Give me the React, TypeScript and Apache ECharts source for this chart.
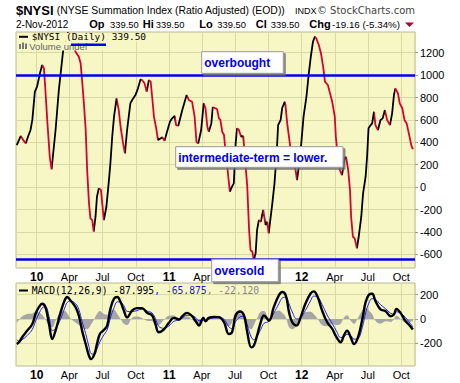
import React, { useEffect, useRef } from 'react';
import * as echarts from 'echarts';

// ---------- data ----------
const nysiDates = [
  '2009-11-07','2009-11-18','2009-11-25','2009-12-02','2009-12-08','2009-12-15','2009-12-20','2009-12-27',
  '2010-01-02','2010-01-10','2010-01-16','2010-01-21','2010-01-25','2010-01-30','2010-02-06','2010-02-11',
  '2010-02-22','2010-03-03','2010-03-15','2010-03-28','2010-04-18','2010-04-27','2010-05-02','2010-05-06',
  '2010-05-11','2010-05-16','2010-05-20','2010-05-25','2010-05-29','2010-06-03','2010-06-07','2010-06-12',
  '2010-06-16','2010-06-21','2010-06-27','2010-07-05','2010-07-12','2010-07-19','2010-07-23','2010-07-28',
  '2010-08-02','2010-08-09','2010-08-15','2010-08-20','2010-08-27','2010-09-01','2010-09-07','2010-09-16',
  '2010-09-21','2010-09-30','2010-10-07','2010-10-14','2010-10-18','2010-10-25','2010-10-31','2010-11-06',
  '2010-11-11','2010-11-15','2010-11-20','2010-11-27','2010-12-01','2010-12-08','2010-12-13','2010-12-19',
  '2010-12-26','2011-01-03','2011-01-09','2011-01-16','2011-01-20','2011-01-26','2011-02-06','2011-02-18',
  '2011-02-24','2011-03-05','2011-03-12','2011-03-17','2011-03-22','2011-03-30','2011-04-06','2011-04-11',
  '2011-04-16','2011-04-20','2011-04-27','2011-05-01','2011-05-09','2011-05-13','2011-05-18','2011-05-22',
  '2011-05-27','2011-06-01','2011-06-05','2011-06-10','2011-06-17','2011-06-23','2011-06-28','2011-07-03',
  '2011-07-07','2011-07-12','2011-07-18','2011-07-24','2011-08-04','2011-08-09','2011-08-13','2011-08-18',
  '2011-08-22','2011-08-27','2011-08-31','2011-09-05','2011-09-10','2011-09-17','2011-09-23','2011-09-28',
  '2011-10-02','2011-10-12','2011-10-18','2011-10-24','2011-10-28','2011-11-04','2011-11-08','2011-11-15',
  '2011-11-17','2011-11-22','2011-12-03','2011-12-15','2011-12-19','2011-12-24','2011-12-30','2012-01-06',
  '2012-01-14','2012-01-20','2012-01-26','2012-02-01','2012-02-06','2012-02-10','2012-02-17','2012-02-23',
  '2012-02-29','2012-03-05','2012-03-13','2012-03-19','2012-03-25','2012-04-01','2012-04-04','2012-04-10',
  '2012-04-15','2012-04-21','2012-04-28','2012-05-02','2012-05-08','2012-05-13','2012-05-16','2012-05-21',
  '2012-05-26','2012-05-29','2012-06-01','2012-06-06','2012-06-13','2012-06-18','2012-06-25','2012-06-29',
  '2012-07-03','2012-07-09','2012-07-13','2012-07-18','2012-07-22','2012-07-29','2012-08-05','2012-08-11',
  '2012-08-17','2012-08-23','2012-08-31','2012-09-06','2012-09-11','2012-09-15','2012-09-22','2012-09-27',
  '2012-10-04','2012-10-10','2012-10-16','2012-10-22','2012-10-29','2012-11-02'
];
const nysiValues = [
  376, 456, 420, 391, 450, 510, 600, 852,
  897, 1016, 1090, 1060, 867, 600, 271, 159,
  510, 867, 1224, 1380, 1209, 1164, 1105, 956,
  748, 510, 153, -142, -279, -294, -398, -264,
  -86, -11, -26, -294, -175, 63, 212, 450,
  629, 793, 688, 539, 391, 302, 510, 748,
  778, 822, 882, 962, 956, 927, 852, 956,
  941, 807, 629, 510, 420, 435, 445, 414,
  495, 584, 614, 635, 554, 548, 688, 822,
  778, 762, 629, 405, 391, 510, 748, 704,
  539, 495, 569, 713, 704, 694, 614, 600,
  495, 465, 320, 182, -41, 4, 34, 391,
  525, 510, 450, 456, 4, -383, -562, -577,
  -651, -591, -383, -294, -309, -204, -338, -309,
  -413, -145, 34, 302, 554, 600, 704, 762,
  740, 569, 300, 153, 63, 182, 361, 629,
  807, 1001, 1164, 1298, 1343, 1329, 1269, 1195,
  1075, 941, 912, 837, 762, 629, 450, 250,
  153, 108, 257, 271, 153, -26, -264, -443,
  -457, -502, -546, -443, -264, -55, 93, 271,
  525, 554, 569, 673, 554, 510, 600, 614,
  688, 600, 554, 659, 822, 882, 837, 748,
  704, 600, 569, 480, 370, 339.5
];

const macdDates = [
  '2009-11-07','2009-11-13','2009-11-22','2009-12-06','2009-12-20','2009-12-29','2010-01-07','2010-01-16',
  '2010-01-25','2010-02-04','2010-02-13','2010-02-22','2010-03-08','2010-03-19','2010-03-26','2010-04-04',
  '2010-04-18','2010-04-27','2010-05-06','2010-05-16','2010-05-25','2010-05-31','2010-06-09','2010-06-16',
  '2010-06-24','2010-07-03','2010-07-14','2010-07-23','2010-08-02','2010-08-11','2010-08-20','2010-08-29',
  '2010-09-07','2010-09-21','2010-10-04','2010-10-18','2010-11-01','2010-11-15','2010-11-24','2010-12-03',
  '2010-12-17','2010-12-31','2011-01-14','2011-01-28','2011-02-06','2011-02-19','2011-03-05','2011-03-15',
  '2011-03-24','2011-04-05','2011-04-11','2011-04-20','2011-05-04','2011-05-18','2011-06-01','2011-06-14',
  '2011-06-23','2011-07-03','2011-07-15','2011-07-26','2011-08-04','2011-08-15','2011-08-22','2011-08-31',
  '2011-09-10','2011-09-19','2011-10-03','2011-10-16','2011-10-30','2011-11-08','2011-11-18','2011-11-27',
  '2011-12-06','2011-12-18','2011-12-29','2012-01-11','2012-01-25','2012-02-03','2012-02-14','2012-02-26',
  '2012-03-11','2012-03-25','2012-04-06','2012-04-17','2012-04-26','2012-05-05','2012-05-15','2012-05-24',
  '2012-06-04','2012-06-16','2012-06-25','2012-07-04','2012-07-13','2012-07-22','2012-08-05','2012-08-19',
  '2012-09-02','2012-09-11','2012-09-18','2012-09-29','2012-10-13','2012-10-22','2012-11-02'
];
const macdValues = [
  -208, -194, -152, -97, -42, 42, 97, 125,
  97, -42, -167, -97, 56, 153, 181, 153,
  97, 28, -97, -208, -305, -333, -292, -208,
  -125, -97, -55, 83, 167, 181, 139, 70,
  12, 70, 89, 89, 50, 28, -42, -111,
  -88, -33, 8, -5, 22, 50, 22, -19,
  -55, 8, -19, 8, 17, 14, -28, -125,
  -111, 28, 61, 28, -111, -236, -222, -139,
  -28, 28, -14, 97, 195, 222, 195, 56,
  -28, -55, 14, 125, 208, 228, 181, 70,
  -28, -83, -153, -194, -139, -97, -153, -208,
  -153, 0, 139, 200, 208, 147, 78, 64,
  22, 36, 83, 50, -19, -47, -88
];
const signalValues = [
  -173, -184, -172, -137, -87, -18, 42, 90,
  102, 18, -97, -82, 1, 88, 136, 148,
  127, 78, -22, -123, -230, -288, -292, -248,
  -190, -142, -90, 8, 92, 141, 139, 110,
  62, 60, 69, 81, 65, 48, 3, -61,
  -78, -58, -20, -10, 7, 30, 27, 11,
  -15, -12, -14, -2, 7, 9, -3, -65,
  -81, -22, 16, 23, -51, -151, -172, -144,
  -88, -37, -19, 47, 125, 172, 180, 126,
  57, 0, 9, 70, 148, 188, 181, 120,
  32, -38, -103, -154, -149, -127, -138, -168,
  -163, -70, 49, 130, 168, 162, 118, 84,
  47, 39, 58, 50, 11, -22, -66
];
const histValues = [
  -35, -10, 20, 40, 45, 60, 55, 35,
  -5, -60, -70, -15, 55, 65, 45, 5,
  -30, -50, -75, -85, -75, -45, 0, 40,
  65, 45, 35, 75, 75, 40, 0, -40,
  -50, 10, 20, 8, -15, -20, -45, -50,
  -10, 25, 28, 5, 15, 20, -5, -30,
  -40, 20, -5, 10, 10, 5, -25, -60,
  -30, 50, 45, 5, -60, -85, -50, 5,
  60, 65, 5, 50, 70, 50, 15, -70,
  -85, -55, 5, 55, 60, 40, 0, -50,
  -60, -45, -50, -40, 10, 30, -15, -40,
  10, 70, 90, 70, 40, -15, -40, -20,
  -25, -3, 25, 0, -30, -25, -22
];

const mainTicks = [-600, -400, -200, 0, 200, 400, 600, 800, 1000, 1200];
const macdTicks = [-200, 0, 200];
const mainRange = [-722, 1385];
const macdRange = [-390, 297];
const dateRange = ['2009-11-05', '2012-11-08'];
// upper-panel date labels covered by the "oversold" note in the original
const coveredTopLabels = ['2011-07-01', '2011-10-01'];
const overboughtLevel = 1000;
const oversoldLevel = -645;
const monthNames = ['Jan','Feb','Mar','Apr','May','Jun','Jul','Aug','Sep','Oct','Nov','Dec'];

// ---------- helpers ----------
const ts = (s: string) => {
  const [y, m, d] = s.split('-').map(Number);
  return new Date(y, m - 1, d).getTime();
};

const BG = '#f7f7c6';
const GRID = '#d9d9a6';
const BORDER = '#b8b890';
const SANS = '"Liberation Sans", Arial, sans-serif';
const MONO = '"DejaVu Sans Mono", monospace';
const UP = '#000000';
const DOWN = '#d8002c';

const nysiData = nysiDates.map((d, i) => [ts(d), nysiValues[i]]);
const macdData = macdDates.map((d, i) => [ts(d), macdValues[i]]);
const signalData = macdDates.map((d, i) => [ts(d), signalValues[i]]);
const histData = macdDates.map((d, i) => [ts(d), histValues[i]]);
const coveredTs = coveredTopLabels.map(ts);

const pieces: any[] = [];
for (let i = 1; i < nysiData.length; i++) {
  const p: any = {
    gte: nysiData[i - 1][0],
    color: nysiData[i][1] >= nysiData[i - 1][1] ? UP : DOWN,
  };
  if (i === nysiData.length - 1) p.lte = nysiData[i][0];
  else p.lt = nysiData[i][0];
  pieces.push(p);
}

const makeTimeFmt = (hidden: number[]) => (v: number) => {
  const d = new Date(v);
  const dayTs = new Date(d.getFullYear(), d.getMonth(), d.getDate()).getTime();
  if (hidden.indexOf(dayTs) >= 0) return '';
  if (d.getMonth() === 0) return '{y|' + String(d.getFullYear()).slice(2) + '}';
  return monthNames[d.getMonth()];
};

const xAxisFor = (gridIndex: number, hidden: number[]) => ({
  type: 'time',
  gridIndex,
  min: ts(dateRange[0]),
  max: ts(dateRange[1]),
  splitNumber: 12,
  axisLine: { show: false },
  axisTick: { show: false },
  axisLabel: {
    showMinLabel: false,
    showMaxLabel: false,
    margin: 3,
    fontSize: 11,
    fontFamily: SANS,
    color: '#000',
    formatter: makeTimeFmt(hidden),
    hideOverlap: false,
    rich: { y: { fontWeight: 'bold', fontSize: 12, fontFamily: SANS, color: '#000' } },
  },
  splitLine: { show: true, lineStyle: { color: GRID, width: 1 } },
});

const yAxisFor = (gridIndex: number, range: number[], ticks: number[]) => ({
  type: 'value',
  gridIndex,
  position: 'right',
  min: range[0],
  max: range[1],
  axisLine: { show: false },
  axisTick: { show: true, length: 3, lineStyle: { color: '#999' }, customValues: ticks },
  axisLabel: {
    customValues: ticks,
    margin: 5,
    fontSize: 11,
    fontFamily: SANS,
    color: '#000',
    formatter: (v: number) => String(v),
  },
  splitLine: { show: true, lineStyle: { color: GRID, width: 1 } },
});

const txt = (x: number, y: number, text: string, font: string, fill = '#000', align = 'left') => ({
  type: 'text',
  z: 100,
  x,
  y,
  style: { text, font, fill, textAlign: align, textVerticalAlign: 'middle', verticalAlign: 'middle' },
});

const box = (x: number, y: number, w: number, h: number, label: string) => [
  {
    type: 'rect',
    z: 100,
    shape: { x, y, width: w, height: h },
    style: { fill: '#ffffff', stroke: '#9a9a9a', lineWidth: 1, shadowColor: 'rgba(110,110,110,0.8)', shadowOffsetX: 2, shadowOffsetY: 2, shadowBlur: 0 },
  },
  txt(x + 2.5, y + h / 2 + 0.5, label, 'bold 12px ' + SANS, '#0000ee'),
];

const graphics: any[] = [
  // header
  txt(16, 10.5, '$NYSI', 'bold 13px ' + SANS),
  txt(56.7, 10.5, '(NYSE Summation Index (Ratio Adjusted) (EOD))', '10.4px ' + SANS),
  txt(295, 10.5, 'INDX', '9px ' + SANS),
  txt(415, 10.5, '\u00a9 StockCharts.com', '10px "DejaVu Sans"', '#444', 'right'),
  txt(16, 24, '2-Nov-2012', '10px ' + SANS),
  txt(89.3, 24, 'Op', 'bold 11px ' + SANS),
  txt(110, 24, '339.50', '9.4px ' + SANS),
  txt(142.7, 24, 'Hi', 'bold 11px ' + SANS),
  txt(155.7, 24, '339.50', '9.4px ' + SANS),
  txt(199.3, 24, 'Lo', 'bold 11px ' + SANS),
  txt(217.3, 24, '339.50', '9.4px ' + SANS),
  txt(255.7, 24, 'Cl', 'bold 11px ' + SANS),
  txt(270.7, 24, '339.50', '9.4px ' + SANS),
  txt(309.3, 24, 'Chg', 'bold 11px ' + SANS),
  txt(332, 24, '-19.16 (-5.34%)', '9.8px ' + SANS),
  { type: 'polygon', z: 100, shape: { points: [[405, 22.5], [414, 22.5], [409.5, 27]] }, style: { fill: '#b0002a' } },
  // main legend
  { type: 'rect', z: 99, shape: { x: 17, y: 33, width: 133, height: 8.8 }, style: { fill: BG } },
  { type: 'rect', z: 99, shape: { x: 17, y: 41.5, width: 90, height: 9 }, style: { fill: BG } },
  { type: 'line', z: 100, shape: { x1: 19, y1: 36.8, x2: 28, y2: 36.8 }, style: { stroke: '#000', lineWidth: 2 } },
  txt(31.7, 36.8, '$NYSI (Daily) 339.50', '9.5px ' + MONO),
  { type: 'rect', z: 100, shape: { x: 19, y: 44, width: 2, height: 5 }, style: { fill: '#777' } },
  { type: 'rect', z: 100, shape: { x: 22, y: 42.5, width: 2, height: 6.5 }, style: { fill: '#777' } },
  { type: 'rect', z: 100, shape: { x: 25, y: 43.5, width: 2, height: 5.5 }, style: { fill: '#777' } },
  txt(29.3, 46.8, 'Volume undef', '9.5px ' + SANS, '#666'),
  { type: 'line', z: 101, shape: { x1: 71, y1: 44.7, x2: 106, y2: 44.7 }, style: { stroke: '#0000ee', lineWidth: 2.5 } },
  // annotations
  ...box(201.7, 51.7, 81.6, 21.6, 'overbought'),
  ...box(175.7, 146.7, 167.3, 20.6, 'intermediate-term = lower.'),
  ...box(211.7, 259.2, 66.6, 22.5, 'oversold'),
  // MACD legend
  { type: 'line', z: 100, shape: { x1: 19, y1: 290.5, x2: 28, y2: 290.5 }, style: { stroke: '#000', lineWidth: 2 } },
  {
    type: 'text',
    z: 100,
    x: 31.7,
    y: 290.8,
    style: {
      text: '{k|MACD(12,26,9) -87.995}{b|, -65.875}{g|, -22.120}',
      font: '9.7px ' + MONO,
      verticalAlign: 'middle',
      textVerticalAlign: 'middle',
      rich: {
        k: { fill: '#000', font: '9.7px ' + MONO },
        b: { fill: '#1a1acc', font: '9.7px ' + MONO },
        g: { fill: '#888', font: '9.7px ' + MONO },
      },
    },
  },
];

const option: any = {
  animation: false,
  backgroundColor: '#ffffff',
  grid: [
    { left: 16, top: 32, width: 399, height: 236, show: true, backgroundColor: BG, borderColor: BORDER, borderWidth: 1, outerBoundsMode: 'none', containLabel: false },
    { left: 16, top: 283, width: 399, height: 83, show: true, backgroundColor: BG, borderColor: BORDER, borderWidth: 1, outerBoundsMode: 'none', containLabel: false },
  ],
  xAxis: [xAxisFor(0, coveredTs), xAxisFor(1, [])],
  yAxis: [yAxisFor(0, mainRange, mainTicks), yAxisFor(1, macdRange, macdTicks)],
  visualMap: {
    type: 'piecewise',
    show: false,
    dimension: 0,
    seriesIndex: 0,
    pieces,
    outOfRange: { color: UP },
  },
  series: [
    {
      type: 'line',
      name: 'NYSI',
      xAxisIndex: 0,
      yAxisIndex: 0,
      data: nysiData,
      showSymbol: false,
      symbol: 'none',
      lineStyle: { width: 1.8 },
      z: 3,
      markLine: {
        silent: true,
        symbol: ['none', 'none'],
        label: { show: false },
        lineStyle: { color: '#0000ee', width: 2.5, type: 'solid' },
        data: [{ yAxis: overboughtLevel }, { yAxis: oversoldLevel }],
      },
    },
    {
      type: 'line',
      name: 'Hist',
      xAxisIndex: 1,
      yAxisIndex: 1,
      data: histData,
      smooth: 0.4,
      showSymbol: false,
      symbol: 'none',
      itemStyle: { color: '#a6a6a6' },
      lineStyle: { width: 0, color: '#a6a6a6' },
      areaStyle: { color: '#a6a6a6', opacity: 1 },
      z: 2,
    },
    {
      type: 'line',
      name: 'Signal',
      xAxisIndex: 1,
      yAxisIndex: 1,
      data: signalData,
      smooth: 0.4,
      showSymbol: false,
      symbol: 'none',
      itemStyle: { color: '#2222ff' },
      lineStyle: { width: 1, color: '#2222ff' },
      z: 3,
    },
    {
      type: 'line',
      name: 'MACD',
      xAxisIndex: 1,
      yAxisIndex: 1,
      data: macdData,
      smooth: 0.4,
      showSymbol: false,
      symbol: 'none',
      itemStyle: { color: '#000' },
      lineStyle: { width: 2.4, color: '#000' },
      z: 4,
    },
  ],
  graphic: { elements: graphics },
};

export default function App() {
  const ref = useRef<HTMLDivElement>(null);
  useEffect(() => {
    const chart = echarts.init(ref.current as HTMLDivElement, null, { renderer: 'svg', width: 460, height: 383 });
    chart.setOption(option);
    return () => chart.dispose();
  }, []);
  return (
    <div
      ref={ref}
      style={{ position: 'fixed', left: 0, top: 0, width: 460, height: 383, background: '#fff' }}
    />
  );
}
